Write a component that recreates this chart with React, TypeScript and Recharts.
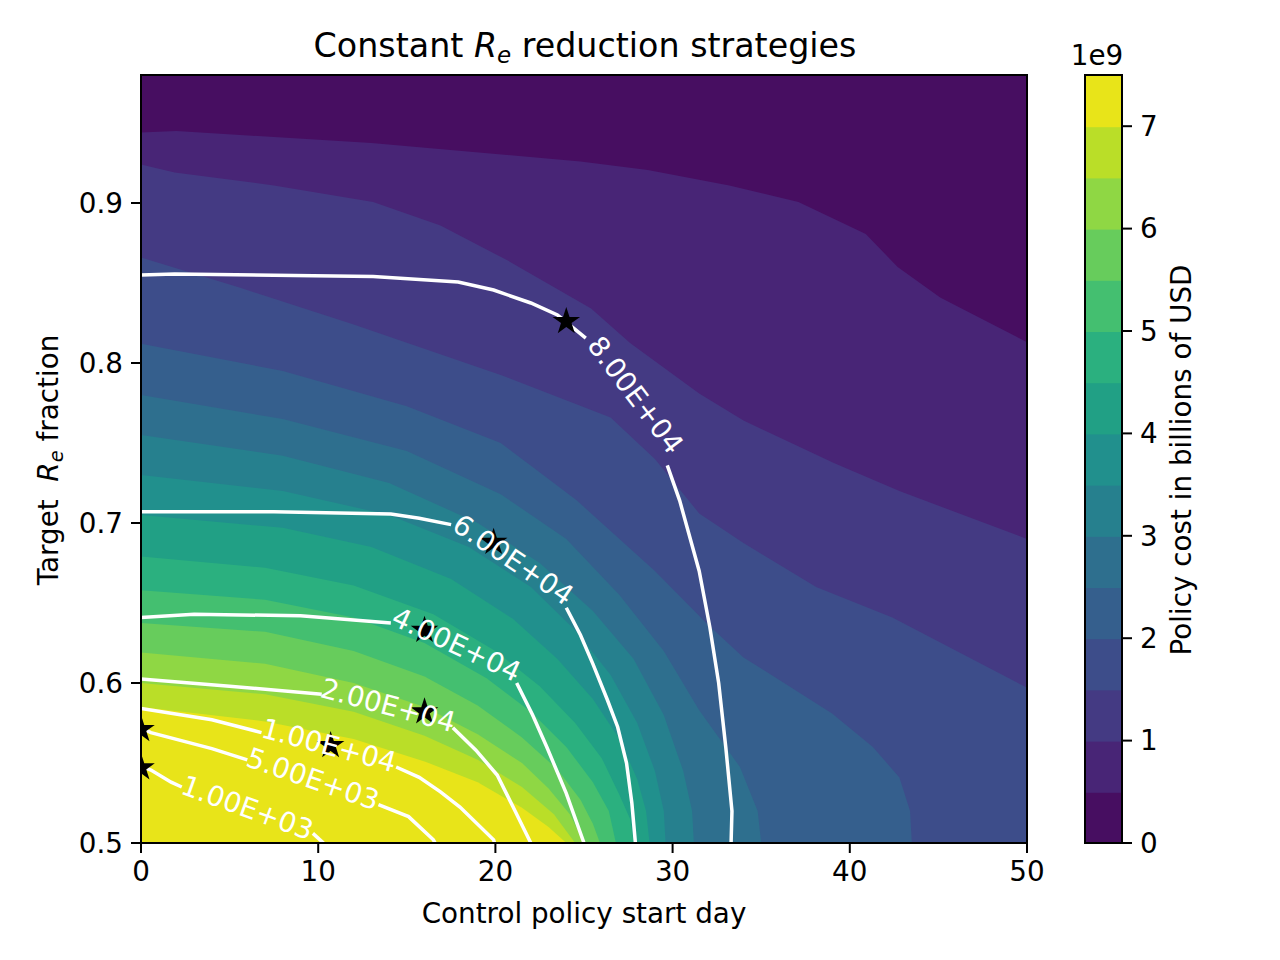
import React from 'react';
import { ComposedChart, Area, Line, Scatter, XAxis, YAxis, BarChart, Bar } from 'recharts';

const FONT = '"DejaVu Sans", sans-serif';
const TICK = { fontSize: 27.8, fill: '#000', fontFamily: FONT };

// policy cost levels (1e9 USD) and the viridis colour of each band between them
const costLevels = [0, 0.5, 1, 1.5, 2, 2.5, 3, 3.5, 4, 4.5, 5, 5.5, 6, 6.5, 7, 7.5];
const bandColors = [
  '#470e61', '#482576', '#443a83', '#3d4d8a', '#355f8d', '#2e6f8e', '#26808e', '#21908d',
  '#21a085', '#2bb07f', '#44bf70', '#67cc5c', '#8fd744', '#bade28', '#e8e419',
];
const colorbarTicks = [0, 1, 2, 3, 4, 5, 6, 7];
const xTicks = [0, 10, 20, 30, 40, 50];
const yTicks = [0.5, 0.6, 0.7, 0.8, 0.9];

// filled-contour boundaries [start day, target Re fraction]; cost is higher below/left
const costTop = [[0, 0.98], [50, 0.98]];
const cost05 = [[0, 0.944], [2, 0.945], [13, 0.9375], [24.8, 0.926], [28.6, 0.9206], [33.2, 0.911], [37.1, 0.9006], [40.9, 0.8806], [42.7, 0.86], [45.1, 0.841], [50, 0.813]];
const cost10 = [[0, 0.924], [1.9, 0.919], [7.5, 0.911], [13.1, 0.9006], [16.9, 0.886], [20.7, 0.864], [25.4, 0.834], [27.6, 0.8125], [31.5, 0.781], [34, 0.764], [39.1, 0.7375], [42.8, 0.72], [50, 0.69]];
const cost15 = [[0, 0.866], [5.6, 0.847], [12, 0.824], [20.3, 0.7925], [26.5, 0.766], [29, 0.74], [31.5, 0.706], [34, 0.6875], [38.1, 0.66], [42.4, 0.641], [50, 0.597]];
const cost20 = [[0, 0.812], [8, 0.795], [15, 0.773], [20.3, 0.75], [22.1, 0.735], [24.6, 0.714], [29, 0.67], [31.9, 0.6375], [34, 0.616], [39, 0.581], [41.3, 0.56], [42.8, 0.541], [43.4, 0.52], [43.5, 0.5]];
const cost25 = [[0, 0.78], [8, 0.765], [15, 0.745], [20.3, 0.718], [24, 0.69], [27, 0.655], [29.5, 0.62], [31.5, 0.583], [33.8, 0.5475], [34.8, 0.52], [35, 0.5]];
const cost30 = [[0, 0.755], [8, 0.742], [14, 0.725], [19, 0.7], [22.5, 0.675], [25.5, 0.645], [27.8, 0.615], [29.5, 0.58], [30.6, 0.545], [31.1, 0.52], [31.2, 0.5]];
const cost35 = [[0, 0.73], [8, 0.72], [14, 0.705], [18.5, 0.685], [22, 0.66], [24.5, 0.633], [26.5, 0.605], [28, 0.575], [29, 0.545], [29.5, 0.52], [29.6, 0.5]];
const cost40 = [[0, 0.705], [8, 0.697], [13, 0.685], [17.5, 0.665], [21, 0.64], [23.5, 0.615], [25.5, 0.59], [27, 0.565], [28, 0.54], [28.5, 0.52], [28.7, 0.5]];
const cost45 = [[0, 0.679], [7, 0.672], [12, 0.661], [16.5, 0.643], [20, 0.62], [22.5, 0.598], [24.5, 0.575], [26, 0.553], [27, 0.53], [27.6, 0.515], [27.8, 0.5]];
const cost50 = [[0, 0.658], [7, 0.652], [12, 0.641], [16, 0.625], [19.5, 0.603], [22, 0.582], [24, 0.56], [25.5, 0.538], [26.4, 0.52], [26.8, 0.5]];
const cost55 = [[0, 0.6375], [7, 0.632], [12, 0.62], [16, 0.604], [19, 0.586], [21.5, 0.566], [23.5, 0.546], [24.8, 0.527], [25.5, 0.512], [25.9, 0.5]];
const cost60 = [[0, 0.619], [7, 0.612], [12, 0.6], [16, 0.585], [19, 0.568], [21.5, 0.55], [23, 0.534], [24.2, 0.518], [25, 0.5]];
const cost65 = [[0, 0.6], [7, 0.593], [12, 0.582], [16, 0.567], [19, 0.552], [21.5, 0.535], [23.3, 0.518], [24.5, 0.5]];
const cost70 = [[0, 0.585], [7, 0.576], [12, 0.565], [16, 0.551], [19, 0.538], [21.5, 0.522], [23, 0.51], [24, 0.5]];

const costBoundaries = [costTop, cost05, cost10, cost15, cost20, cost25, cost30, cost35, cost40, cost45, cost50, cost55, cost60, cost65, cost70];

// death contour lines, split where the inline label sits
const deaths8e4 = [
  [[0, 0.855], [1.9, 0.8556], [13.1, 0.854], [17.9, 0.8506], [19.9, 0.8456], [22, 0.8375], [23.5, 0.83], [24, 0.8256], [25.1, 0.8156]],
  [[29.7, 0.736], [30.4, 0.714], [31.5, 0.67], [32.1, 0.635], [32.6, 0.6], [33, 0.56], [33.35, 0.52], [33.3, 0.5]],
];
const deaths6e4 = [
  [[0, 0.707], [7.5, 0.707], [14.1, 0.7056], [15.7, 0.703], [17.5, 0.699]],
  [[24, 0.647], [24.8, 0.63], [25.5, 0.612], [26.3, 0.59], [26.9, 0.5725], [27.4, 0.55], [27.7, 0.525], [27.9, 0.5]],
];
const deaths4e4 = [
  [[0, 0.641], [3, 0.643], [9, 0.642], [14.1, 0.6375]],
  [[21.2, 0.6], [22.1, 0.58], [22.9, 0.56], [24, 0.531], [25, 0.5]],
];
const deaths2e4 = [
  [[0, 0.6025], [5, 0.598], [10.2, 0.593]],
  [[17.6, 0.572], [18.9, 0.558], [20.1, 0.5425], [21, 0.5225], [22, 0.5]],
];
const deaths1e4 = [
  [[0, 0.584], [4, 0.577], [6.8, 0.569]],
  [[14.4, 0.5475], [15.7, 0.541], [16.9, 0.532], [18, 0.5225], [19.9, 0.502], [19.95, 0.5]],
];
const deaths5e3 = [
  [[0, 0.572], [0.56, 0.569], [4, 0.559], [6, 0.552]],
  [[13.4, 0.524], [15.1, 0.5165], [16.5, 0.502], [16.6, 0.5]],
];
const deaths1e3 = [
  [[0, 0.548], [0.56, 0.5456], [1.7, 0.538], [2.3, 0.535]],
  [[9.7, 0.506], [10.3, 0.5]],
];
const deathLines = [deaths8e4, deaths6e4, deaths4e4, deaths2e4, deaths1e4, deaths5e3, deaths1e3];

const contourLabels = [
  { x: 27.9, y: 0.78, text: '8.00E+04', angle: 53 },
  { x: 21.0, y: 0.677, text: '6.00E+04', angle: 34 },
  { x: 17.8, y: 0.624, text: '4.00E+04', angle: 25 },
  { x: 13.95, y: 0.586, text: '2.00E+04', angle: 15 },
  { x: 10.6, y: 0.561, text: '1.00E+04', angle: 15 },
  { x: 9.7, y: 0.54, text: '5.00E+03', angle: 19 },
  { x: 6.0, y: 0.522, text: '1.00E+03', angle: 20 },
];

const optimalPoints = [
  { x: 0, y: 0.571 },
  { x: 0, y: 0.547 },
  { x: 10.7, y: 0.561 },
  { x: 16.0, y: 0.582 },
  { x: 16.0, y: 0.633 },
  { x: 19.9, y: 0.688 },
  { x: 24.0, y: 0.826 },
];

const toPoints = (seg: number[][]) => seg.map(([x, y]) => ({ x, y }));

const colorbarRow = [
  costLevels.slice(1).reduce((row: any, lv, i) => {
    row['b' + i] = lv - costLevels[i];
    return row;
  }, { name: 'cost' }),
];

function StarMark(props: any) {
  const { cx, cy } = props;
  const R = 14.5;
  const r = R * 0.382;
  const pts: string[] = [];
  for (let i = 0; i < 10; i++) {
    const a = -Math.PI / 2 + (i * Math.PI) / 5;
    const rad = i % 2 === 0 ? R : r;
    pts.push(`${cx + rad * Math.cos(a)},${cy + rad * Math.sin(a)}`);
  }
  return <polygon points={pts.join(' ')} fill="#000" />;
}

function ContourText(props: any) {
  const { cx, cy, payload } = props;
  return (
    <text
      x={cx}
      y={cy}
      transform={`rotate(${payload.angle} ${cx} ${cy})`}
      textAnchor="middle"
      dominantBaseline="central"
      fill="#fff"
      fontSize={27.8}
      fontFamily={FONT}
    >
      {payload.text}
    </text>
  );
}

// colorbar segment, stretched 1px down so neighbouring segments leave no seam
function ColorbarCell(props: any) {
  const { x, y, width, height, fill } = props;
  return <rect x={x} y={y} width={width} height={height + 1} fill={fill} />;
}

export default function App() {
  return (
    <div style={{ position: 'absolute', left: 0, top: 0, width: 1280, height: 960, background: '#fff' }}>
      <div style={{ position: 'absolute', left: 0, top: 0 }}>
        <ComposedChart width={1280} height={960} margin={{ top: 75, right: 253, bottom: 77, left: 61 }}>
          <XAxis
            type="number"
            dataKey="x"
            domain={[0, 50]}
            ticks={xTicks}
            allowDataOverflow
            height={40}
            tick={TICK}
            tickSize={10}
            tickMargin={8}
            tickLine={{ stroke: '#000', strokeWidth: 2 }}
            axisLine={{ stroke: '#000', strokeWidth: 2 }}
          />
          <YAxis
            type="number"
            domain={[0.5, 0.98]}
            ticks={yTicks}
            allowDataOverflow
            width={80}
            tick={TICK}
            tickSize={10}
            tickMargin={8}
            tickFormatter={(v: number) => v.toFixed(1)}
            tickLine={{ stroke: '#000', strokeWidth: 2 }}
            axisLine={{ stroke: '#000', strokeWidth: 2 }}
          />
          {costBoundaries.map((seg, i) => (
            <Area
              key={'band' + i}
              data={toPoints(seg)}
              dataKey="y"
              type="linear"
              baseValue={0.5}
              stroke="none"
              fill={bandColors[i]}
              fillOpacity={1}
              isAnimationActive={false}
            />
          ))}
          {deathLines.flatMap((segs, i) =>
            segs.map((seg, j) => (
              <Line
                key={`d${i}-${j}`}
                data={toPoints(seg)}
                dataKey="y"
                type="linear"
                stroke="#fff"
                strokeWidth={3.5}
                dot={false}
                isAnimationActive={false}
              />
            ))
          )}
          <Scatter data={optimalPoints} dataKey="y" shape={<StarMark />} isAnimationActive={false} />
          <Scatter data={contourLabels} dataKey="y" shape={<ContourText />} isAnimationActive={false} />
        </ComposedChart>
      </div>

      <div style={{ position: 'absolute', left: 1000, top: 0 }}>
        <BarChart
          width={280}
          height={960}
          data={colorbarRow}
          margin={{ top: 75, right: 98, bottom: 117, left: 85 }}
          barCategoryGap={0}
        >
          <XAxis dataKey="name" hide />
          <YAxis
            orientation="right"
            type="number"
            domain={[0, 7.5]}
            ticks={colorbarTicks}
            width={60}
            tick={TICK}
            tickSize={10}
            tickMargin={8}
            tickLine={{ stroke: '#000', strokeWidth: 2 }}
            axisLine={false}
          />
          {bandColors.map((c, i) => (
            <Bar
              key={'cb' + i}
              dataKey={'b' + i}
              stackId="cb"
              fill={c}
              shape={<ColorbarCell />}
              isAnimationActive={false}
            />
          ))}
        </BarChart>
      </div>

      <svg
        width={1280}
        height={960}
        style={{ position: 'absolute', left: 0, top: 0, pointerEvents: 'none' }}
        fontFamily={FONT}
      >
        <rect x={141} y={75} width={886} height={768} fill="none" stroke="#000" strokeWidth={2} />
        <rect x={1085} y={75} width={37} height={768} fill="none" stroke="#000" strokeWidth={2} />
        <text x={585} y={57} textAnchor="middle" fontSize={33.3} fill="#000" style={{ whiteSpace: 'pre' }}>
          {'Constant '}
          <tspan fontStyle="italic">R</tspan>
          <tspan fontStyle="italic" fontSize={23} dy={6}>e</tspan>
          <tspan dy={-6}>{' reduction strategies'}</tspan>
        </text>
        <text x={584} y={923} textAnchor="middle" fontSize={27.8} fill="#000">
          Control policy start day
        </text>
        <text
          x={58}
          y={460}
          transform="rotate(-90 58 460)"
          textAnchor="middle"
          fontSize={27.8}
          fill="#000"
          style={{ whiteSpace: 'pre' }}
        >
          {'Target  '}
          <tspan fontStyle="italic">R</tspan>
          <tspan fontStyle="italic" fontSize={19.5} dy={5}>e</tspan>
          <tspan dy={-5}>{' fraction'}</tspan>
        </text>
        <text
          x={1191}
          y={460}
          transform="rotate(-90 1191 460)"
          textAnchor="middle"
          fontSize={27.8}
          fill="#000"
        >
          Policy cost in billions of USD
        </text>
        <text x={1097} y={65} textAnchor="middle" fontSize={27.8} fill="#000">
          1e9
        </text>
      </svg>
    </div>
  );
}
